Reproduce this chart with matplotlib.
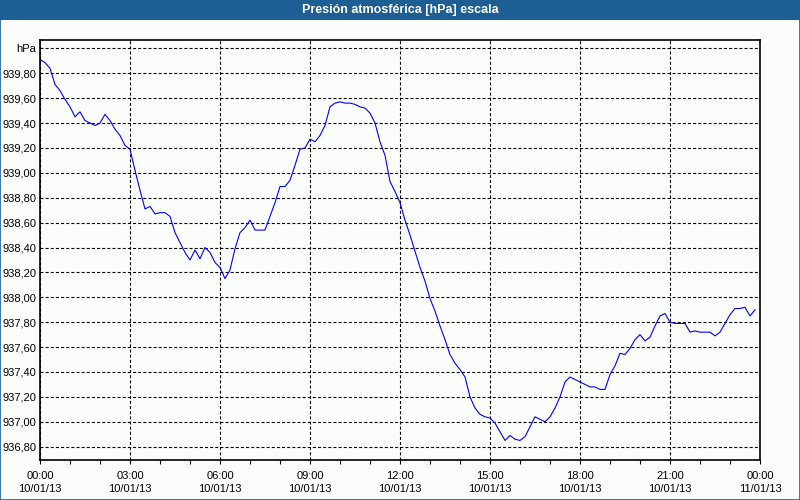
import numpy as np
import matplotlib
matplotlib.use("Agg")
import matplotlib.pyplot as plt
from matplotlib.patches import Rectangle
from matplotlib.ticker import FixedLocator, FuncFormatter

plt.rcParams['lines.scale_dashes'] = False
plt.rcParams['font.family'] = ['Liberation Sans', 'DejaVu Sans']

titulo = 'Presión atmosférica [hPa] escala'
# una lectura cada 10 minutos, desde las 00:00 del 10/01/13
presion = [
    939.91, 939.885, 939.84, 939.71, 939.66, 939.59, 939.53, 939.45, 939.49, 939.42,
    939.40, 939.38, 939.40, 939.47, 939.42, 939.35, 939.30, 939.22, 939.19, 939.02,
    938.86, 938.71, 938.73, 938.67, 938.68, 938.68, 938.65, 938.52, 938.44, 938.36,
    938.30, 938.38, 938.31, 938.40, 938.36, 938.28, 938.24, 938.15, 938.22, 938.39,
    938.52, 938.56, 938.62, 938.54, 938.54, 938.54, 938.65, 938.76, 938.89, 938.89,
    938.94, 939.06, 939.19, 939.20, 939.27, 939.25, 939.30, 939.38, 939.53, 939.56,
    939.57, 939.56, 939.56, 939.55, 939.53, 939.52, 939.48, 939.40, 939.25, 939.14,
    938.93, 938.85, 938.76, 938.62, 938.50, 938.37, 938.24, 938.13, 937.99, 937.89,
    937.77, 937.66, 937.54, 937.47, 937.42, 937.36, 937.20, 937.11, 937.06, 937.04,
    937.03, 936.99, 936.92, 936.85, 936.89, 936.86, 936.85, 936.88, 936.96, 937.04,
    937.02, 937.00, 937.04, 937.11, 937.20, 937.32, 937.36, 937.34, 937.32, 937.30,
    937.28, 937.28, 937.26, 937.26, 937.38, 937.45, 937.55, 937.54, 937.59, 937.66,
    937.70, 937.65, 937.68, 937.77, 937.85, 937.87, 937.80, 937.79, 937.79, 937.79,
    937.72, 937.73, 937.72, 937.72, 937.72, 937.69, 937.72, 937.79, 937.86, 937.91,
    937.91, 937.92, 937.85, 937.90,
]
paso_min = 10
etiquetas_x = ['00:00\n10/01/13', '03:00\n10/01/13', '06:00\n10/01/13',
               '09:00\n10/01/13', '12:00\n10/01/13', '15:00\n10/01/13',
               '18:00\n10/01/13', '21:00\n10/01/13', '00:00\n11/01/13']
valores_y = [936.8, 937.0, 937.2, 937.4, 937.6, 937.8, 938.0, 938.2, 938.4,
             938.6, 938.8, 939.0, 939.2, 939.4, 939.6, 939.8, 940.0]

minutos = np.arange(len(presion)) * paso_min

fig = plt.figure(figsize=(8, 5), dpi=100, facecolor='#fbfdfb')
azul = '#1d5e95'
fig.patches.append(Rectangle((0, 0.96), 1, 0.04, transform=fig.transFigure,
                             facecolor=azul, edgecolor='none', zorder=0))
fig.patches.append(Rectangle((0.0006, 0.001), 0.9988, 0.998, transform=fig.transFigure,
                             facecolor='none', edgecolor=azul, lw=1.2, zorder=0))
fig.text(0.5, 0.979, titulo, color='white', fontsize=9, fontweight='bold',
         ha='center', va='center')

ax = fig.add_axes([40/800, 40/500, 720/800, 420/500])
ax.set_facecolor('#fbfdfb')
ax.plot(minutos, presion, color='#0000ff', lw=0.8)

ax.set_xlim(0, 1440)
ax.set_ylim(936.693, 940.067)

ax.xaxis.set_major_locator(FixedLocator(np.arange(0, 1441, 180)))
ax.xaxis.set_minor_locator(FixedLocator(np.arange(0, 1441, 60)))
ax.set_xticklabels(etiquetas_x, fontsize=8, linespacing=1.4)
ax.tick_params(axis='x', which='both', direction='out', length=3.2, width=0.8,
               color='black', pad=4.5)

ax.yaxis.set_major_locator(FixedLocator(valores_y))
ax.yaxis.set_major_formatter(FuncFormatter(
    lambda v, p: 'hPa' if v > 939.9 else f'{v:.2f}'.replace('.', ',')))
ax.tick_params(axis='y', length=0, labelsize=8, pad=2.5)

ax.grid(True, which='major', color='black', lw=0.8, linestyle=(0, (2.2, 1.5)))
for s in ax.spines.values():
    s.set_linewidth(1.2)
    s.set_color('black')

fig.savefig('out.png', dpi=100, facecolor=fig.get_facecolor())
